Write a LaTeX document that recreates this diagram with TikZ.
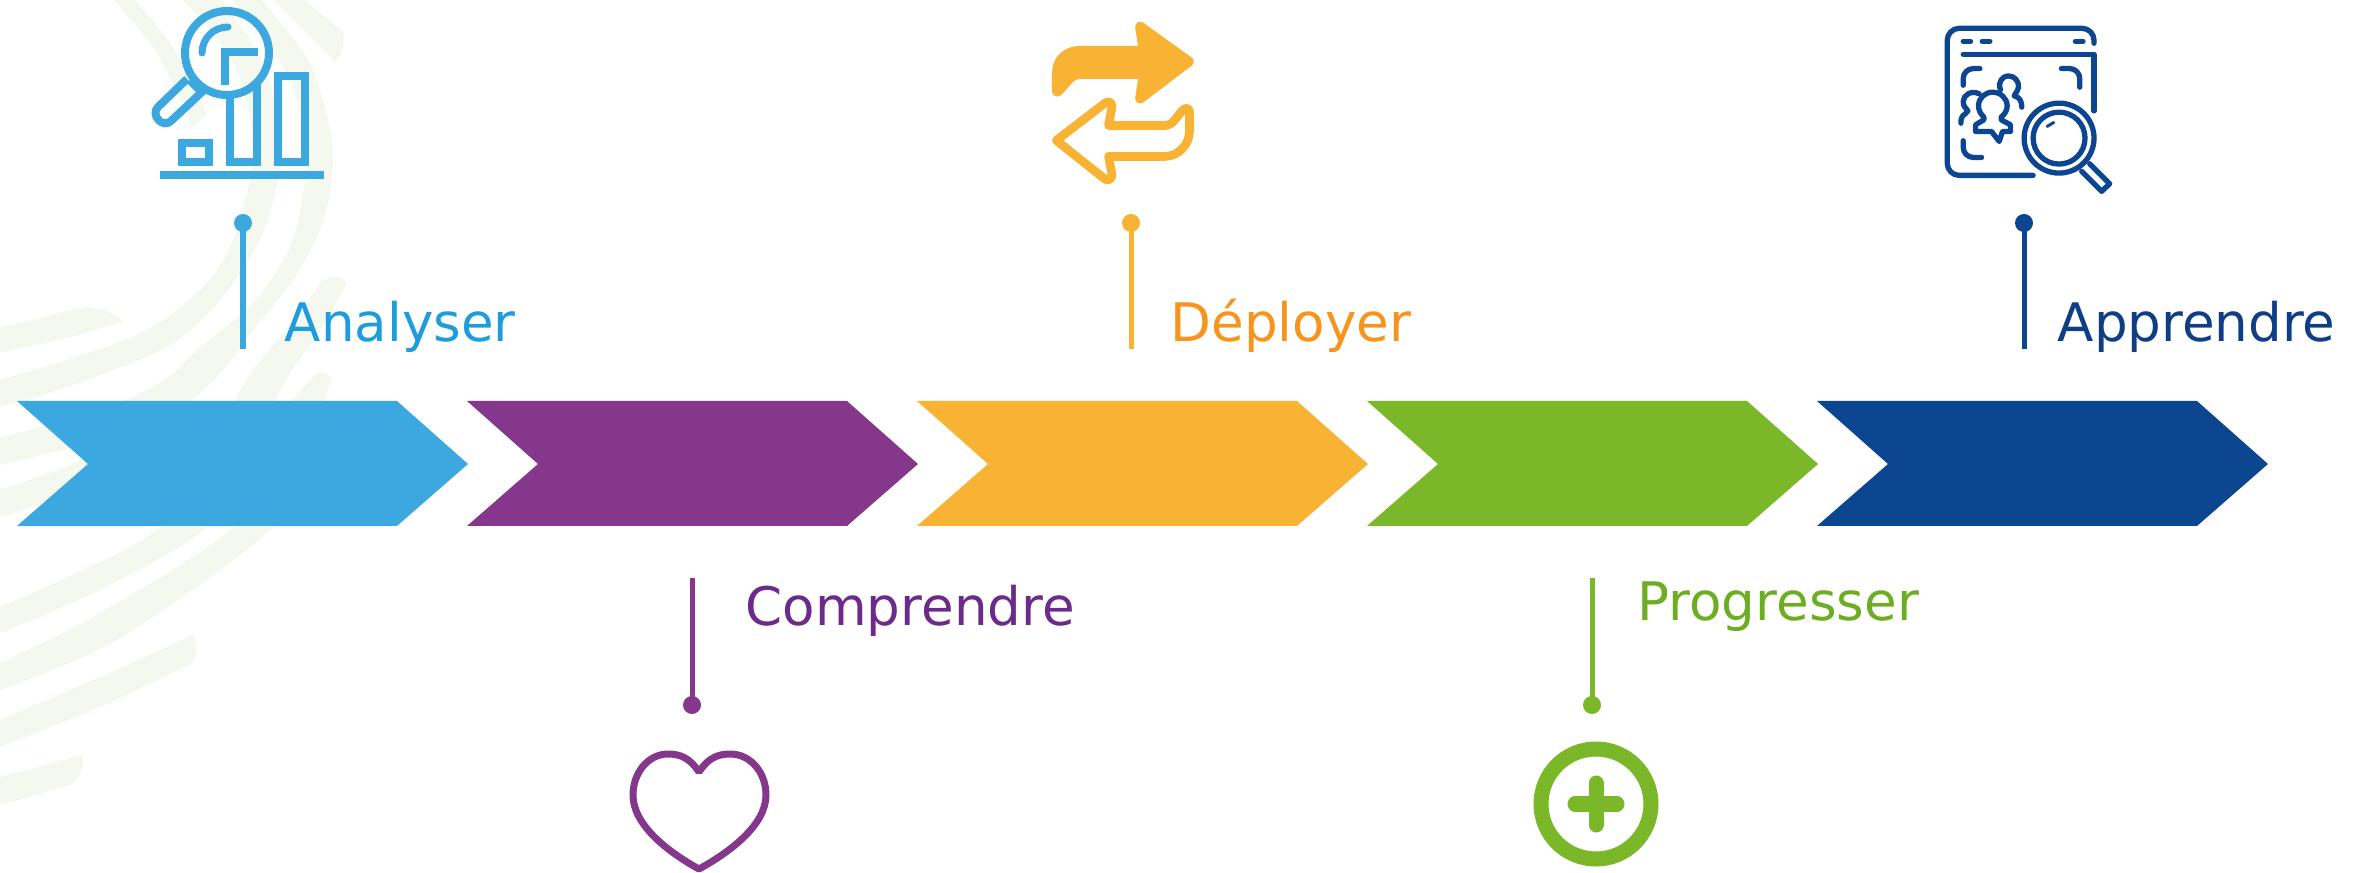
\documentclass[tikz,border=0pt]{standalone}
\usepackage{fontspec}
\setmainfont{DejaVu Sans}
\definecolor{cblue}{HTML}{3BA9E0}
\definecolor{cpurple}{HTML}{84378B}
\definecolor{corange}{HTML}{F8B334}
\definecolor{cgreen}{HTML}{7AB829}
\definecolor{cnavy}{HTML}{0C4690}
\definecolor{tblue}{HTML}{1F9CDC}
\definecolor{tpurple}{HTML}{6C2A8A}
\definecolor{torange}{HTML}{F7941D}
\definecolor{tgreen}{HTML}{6CAD23}
\definecolor{tnavy}{HTML}{0F3D86}
\definecolor{swoosh}{HTML}{F5F8EE}
\newcommand{\chevronshape}[2]{\fill[#2] (#1,401) -- ++(380,0) -- ++(71,63) -- ++(-71,62) -- ++(-380,0) -- ++(71,-62) -- cycle;}
\tikzset{
  lbl/.style={anchor=base west,inner sep=0pt,font=\fontsize{15.1}{18}\selectfont},
  dotmark/.style={circle,fill=#1,inner sep=0pt,minimum size=0.18cm},
  stem/.style={draw=#1,line width=0.05cm},
  zoomed/.style={x=0.003333cm,y=-0.003333cm},
  band/.style={fill=swoosh}
}
\begin{document}
\begin{tikzpicture}[x=0.01cm,y=-0.01cm]
\useasboundingbox (0,0) rectangle (2359,873);
\clip (0,0) rectangle (2359,873);
% background swooshes
\fill[band] plot[smooth] coordinates {(135,0) (175,50) (207,115)} -- (190,128) -- plot[smooth] coordinates {(188,115) (155,50) (113,0)} -- cycle;
\fill[band] plot[smooth] coordinates {(221,0) (262,60) (280,130) (278,180) (260,240) (220,300) (167,347) (67,387) (0,407)} -- plot[smooth] coordinates {(0,380) (133,337) (200,290) (230,247) (250,180) (252,130) (232,60) (183,0)} -- cycle;
\fill[band] plot[smooth] coordinates {(262,0) (310,63) (330,130) (332,180) (320,230) (293,280) (253,330) (214,380) (150,425) (0,465)} -- plot[smooth] coordinates {(0,438) (100,410) (164,380) (200,347) (253,303) (290,247) (305,180) (303,130) (285,70) (232,0)} -- cycle;
\fill[band] (273,0) -- (335,62) .. controls (342,55) and (345,42) .. (343,32) -- (305,0) -- cycle;
\fill[band] (0,327) .. controls (30,322) and (60,312) .. (85,307) .. controls (100,307) and (115,314) .. (123,321) .. controls (90,333) and (40,345) .. (0,352) -- cycle;
\fill[band] plot[smooth] coordinates {(0,517) (80,490) (160,450)} -- plot[smooth] coordinates {(140,430) (70,465) (0,490)} -- cycle;
\fill[band] plot[smooth] coordinates {(347,283) (320,330) (286,380) (250,450) (207,527) (100,590) (0,633)} -- plot[smooth] coordinates {(0,607) (83,570) (160,527) (210,450) (246,380) (267,353) (300,313) (320,283)} .. controls (328,276) and (340,274) .. (347,283) -- cycle;
\fill[band] plot[smooth] coordinates {(331,379) (323,403) (300,450) (273,527) (117,640) (0,690)} -- plot[smooth] coordinates {(0,663) (100,613) (233,527) (265,450) (290,403) (317,373)} .. controls (322,371) and (328,373) .. (331,379) -- cycle;
\fill[band] plot[smooth] coordinates {(0,720) (100,677) (193,635)} .. controls (198,645) and (197,655) .. (193,663) -- plot[smooth] coordinates {(193,663) (100,707) (0,747)} -- cycle;
\fill[band] (0,777) -- (82,755) .. controls (85,765) and (80,780) .. (70,785) -- (0,805) -- cycle;
% chevrons
\chevronshape{17}{cblue}
\chevronshape{467}{cpurple}
\chevronshape{917}{corange}
\chevronshape{1367}{cgreen}
\chevronshape{1817}{cnavy}
% stems
\node[dotmark=cblue] (d1) at (243,223) {};
\coordinate (e1) at (243,349);
\draw[stem=cblue] (d1.center) -- (e1);
\node[dotmark=cpurple] (d2) at (692,705) {};
\coordinate (e2) at (692,578);
\draw[stem=cpurple] (d2.center) -- (e2);
\node[dotmark=corange] (d3) at (1131,223) {};
\coordinate (e3) at (1131,349);
\draw[stem=corange] (d3.center) -- (e3);
\node[dotmark=cgreen] (d4) at (1592,705) {};
\coordinate (e4) at (1592,578);
\draw[stem=cgreen] (d4.center) -- (e4);
\node[dotmark=cnavy] (d5) at (2024,223) {};
\coordinate (e5) at (2024,349);
\draw[stem=cnavy] (d5.center) -- (e5);
% labels
\node[lbl,text=tblue] (t1) at (284,342) {Analyser};
\node[lbl,text=tpurple] (t2) at (745,625) {Comprendre};
\node[lbl,text=torange] (t3) at (1170,342) {Déployer};
\node[lbl,text=tgreen] (t4) at (1637,620) {Progresser};
\node[lbl,text=tnavy] (t5) at (2057,342) {Apprendre};
% icon 1
\begin{scope}[draw=cblue,line width=0.08cm]
\draw (227,53) circle [radius=42];
\draw[line join=round] (187,79) -- (158,107) .. controls (150,115) and (163,129) .. (171,121) -- (203,91);
\draw[line width=0.06cm] (189,81) -- (199,91);
\draw[line cap=round,line width=0.07cm] (228,27) .. controls (213.6,27) and (202,38.4) .. (202,53);
\draw (225,85) -- (225,52) -- (258,52);
\draw (182,143) rectangle (209,162);
\draw (230,97) -- (230,162) -- (257,162) -- (257,83);
\draw (278,76) rectangle (305,162);
\draw (160,175.5) -- (324,175.5);
\end{scope}
% icon 3
\begin{scope}[shift={(1030,10)},zoomed]
\filldraw[corange,line width=0.1cm,line join=round] (331,50) -- (477,155) -- (331,266) -- (342,192) -- (150,192) .. controls (120,192) and (105,225) .. (83,245) -- (81,245) -- (81,190) .. controls (81,150) and (110,123) .. (150,123) -- (342,123) -- cycle;
\draw[corange,line width=0.087cm,line join=round] (79,392) -- (225,280) .. controls (238,270) and (248,280) .. (246,292) -- (236,347) -- (405,347) .. controls (430,347) and (440,320) .. (460,300) .. controls (468,292) and (479,296) .. (479,305) -- (479,365) .. controls (479,405) and (445,440) .. (405,440) -- (236,440) -- (246,492) .. controls (248,508) and (235,515) .. (225,508) -- cycle;
\end{scope}
% icon 5
\begin{scope}[shift={(1900,10)},zoomed,draw=cnavy,line width=0.053cm,line cap=round,line join=round]
\draw[rounded corners=0.12cm] (583,100) -- (583,55) -- (142,55) -- (142,497) -- (400,497);
\draw (190,94) -- (212,94);
\draw (247,94) -- (270,94);
\draw (527,94) -- (550,94);
\draw (190,133) -- (583,133) -- (583,303);
\draw[rounded corners=0.1cm] (240,176) -- (190,176) -- (190,226);
\draw[rounded corners=0.1cm] (485,176) -- (540,176) -- (540,232);
\draw[rounded corners=0.1cm] (190,393) -- (190,443) -- (245,443);
\draw (252,322) .. controls (240,310) and (236,300) .. (236,288) .. controls (236,265) and (255,247) .. (278,247) .. controls (302,247) and (322,265) .. (322,288) .. controls (322,300) and (316,312) .. (304,322) -- (304,330) -- (332,345) -- (332,365) -- (308,365) -- (298,395) -- (275,365) -- (227,365) -- (227,345) -- (252,330) -- cycle;
\draw (238,252) .. controls (215,240) and (190,255) .. (190,275) .. controls (190,290) and (198,295) .. (204,303) -- (196,312) .. controls (185,318) and (183,328) .. (183,340);
\draw (302,240) .. controls (292,215) and (310,198) .. (325,198) .. controls (345,198) and (358,215) .. (356,232) .. controls (354,245) and (345,250) .. (343,258) .. controls (360,262) and (366,275) .. (366,292);
\draw (478,385) circle [radius=105];
\draw (478,385) circle [radius=78];
\draw[line width=0.03cm] (442,350) -- (462,338);
\draw (570,462) -- (630,522) -- (606,545) -- (546,485);
\end{scope}
% heart
\draw[cpurple,line width=0.07cm,line join=bevel] (699,772) .. controls (690,758) and (680,754) .. (668,754) .. controls (648,754) and (633,773) .. (633,795) .. controls (633,825) and (668,852) .. (699,869) .. controls (730,852) and (766,825) .. (766,795) .. controls (766,773) and (751,754) .. (730,754) .. controls (718,754) and (708,758) .. (699,772) -- cycle;
% plus
\draw[cgreen,line width=0.15cm] (1596,804) circle [radius=55];
\draw[cgreen,line width=0.15cm,line cap=round] (1575,804) -- (1617,804);
\draw[cgreen,line width=0.15cm,line cap=round] (1596,783) -- (1596,825);
\end{tikzpicture}
\end{document}
